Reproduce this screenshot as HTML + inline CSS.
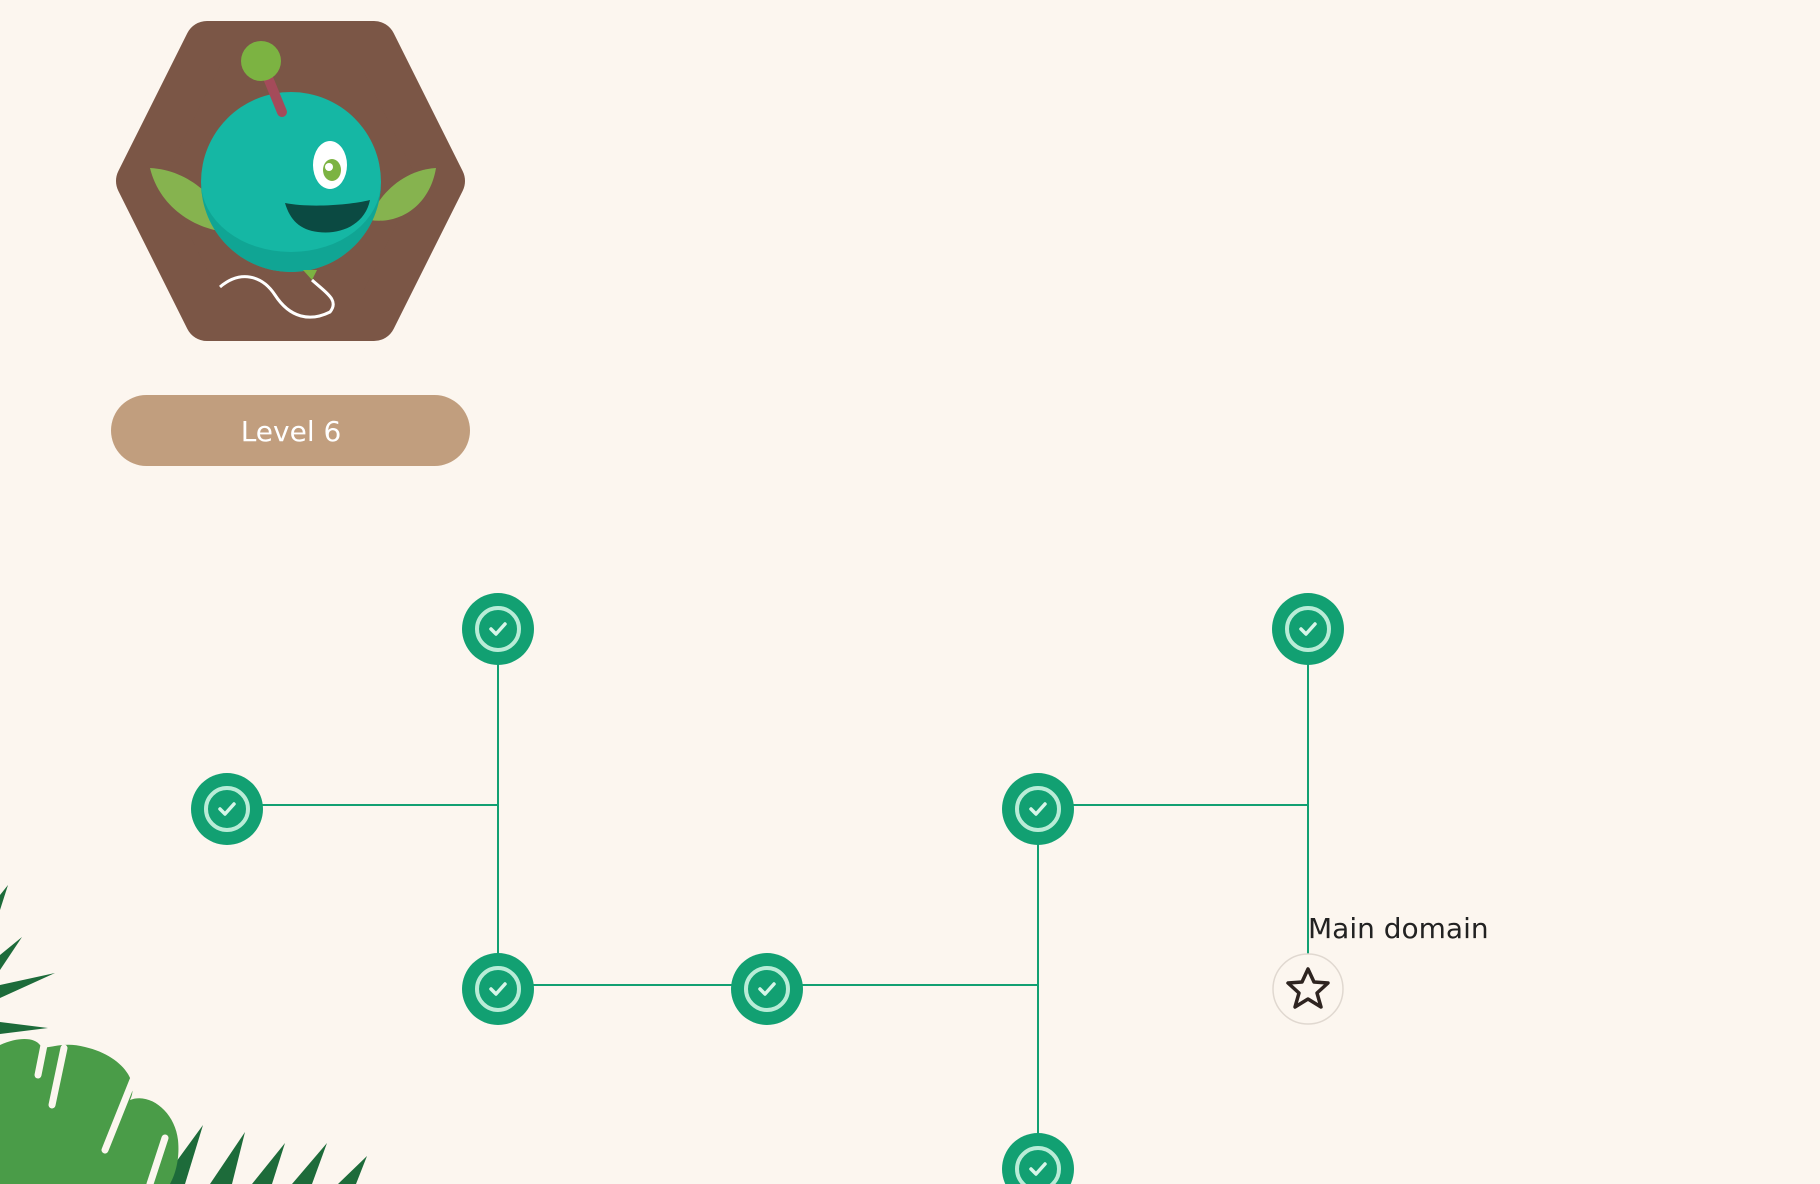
<!DOCTYPE html>
<html><head><meta charset="utf-8"><style>
html,body{margin:0;padding:0;width:1820px;height:1184px;overflow:hidden;background:#fcf6ef;}
svg{display:block}
</style></head><body>
<svg width="1820" height="1184" viewBox="0 0 1820 1184" xmlns="http://www.w3.org/2000/svg">
<defs>
<radialGradient id="bg" cx="50%" cy="0%" r="60%"><stop offset="0" stop-color="#f4ece4"/><stop offset="1" stop-color="#fcf6ef" stop-opacity="0"/></radialGradient>
<g id="n">
<circle r="36" fill="#12a072"/>
<circle r="21" fill="none" stroke="#b9ecd7" stroke-width="4"/>
<path d="M-7 0 L-2 5 L7 -5" fill="none" stroke="#d6f5e8" stroke-width="3.5" stroke-linecap="round" stroke-linejoin="round"/>
</g>
</defs>
<rect width="1820" height="1184" fill="#fcf6ef"/>
<ellipse cx="1250" cy="0" rx="550" ry="90" fill="url(#bg)"/>
<!-- hexagon -->
<polygon points="207,43 374,43 443,181 374,319 207,319 138,181" fill="#7b5646" stroke="#7b5646" stroke-width="44" stroke-linejoin="round"/>
<!-- character -->
<path d="M150 168 C190 170 220 200 232 232 C200 232 160 210 150 168Z" fill="#86b34f"/>
<path d="M436 168 C400 170 375 200 370 220 C400 225 430 205 436 168Z" fill="#86b34f"/>
<circle cx="291" cy="182" r="90" fill="#15b7a4"/>
<path d="M201 182 A90 90 0 0 0 381 182 A90 70 0 0 1 201 182Z" fill="#10a594"/>
<line x1="264" y1="68" x2="282" y2="112" stroke="#a44b5a" stroke-width="10" stroke-linecap="round"/>
<circle cx="261" cy="61" r="20" fill="#7cb342"/>
<ellipse cx="330" cy="165" rx="17" ry="24" fill="#fff"/>
<ellipse cx="332" cy="170" rx="9" ry="11" fill="#7cb342"/>
<circle cx="329" cy="167" r="4" fill="#fff"/>
<path d="M285 203 C310 208 350 205 370 200 C365 225 340 235 318 232 C300 230 290 220 285 203Z" fill="#0b4a42"/>
<path d="M303 270 L317 270 L312 280Z" fill="#7cb342"/>
<path d="M220 287 C240 270 262 275 275 295 C290 318 310 322 330 312 C340 300 325 292 312 280" fill="none" stroke="#fff" stroke-width="3"/>
<!-- level pill -->
<rect x="111" y="395" width="359" height="71" rx="35.5" fill="#c19e7e"/>
<text x="291" y="441" text-anchor="middle" font-family="DejaVu Sans, sans-serif" font-size="28" fill="#fff">Level 6</text>
<!-- connectors -->
<g stroke="#12a072" stroke-width="2" fill="none">
<line x1="498" y1="629" x2="498" y2="989"/>
<line x1="227" y1="805" x2="498" y2="805"/>
<line x1="498" y1="985" x2="1038" y2="985"/>
<line x1="1038" y1="809" x2="1038" y2="1169"/>
<line x1="1038" y1="805" x2="1308" y2="805"/>
<line x1="1308" y1="629" x2="1308" y2="955"/>
</g>
<use href="#n" x="498" y="629"/>
<use href="#n" x="227" y="809"/>
<use href="#n" x="498" y="989"/>
<use href="#n" x="767" y="989"/>
<use href="#n" x="1038" y="809"/>
<use href="#n" x="1038" y="1169"/>
<use href="#n" x="1308" y="629"/>
<circle cx="1308" cy="989" r="35" fill="#fcf6ef" stroke="#e0d8d0" stroke-width="1.5"/>
<path d="M1308 969 L1314 982 L1328 983 L1317 993 L1321 1007 L1308 999 L1295 1007 L1299 993 L1288 983 L1302 982Z" fill="none" stroke="#2e2420" stroke-width="3.5" stroke-linejoin="round"/>
<text x="1308" y="938" font-family="DejaVu Sans, sans-serif" font-size="28" fill="#222">Main domain</text>
<!-- leaves -->
<g fill="#1d6b3a">
<path d="M0 895 L8 885 L0 910Z"/>
<path d="M0 955 L22 937 L0 970Z"/>
<path d="M0 985 L55 973 L0 998Z"/>
<path d="M0 1022 L48 1028 L0 1034Z"/>
<path d="M0 1065 L45 1075 L0 1082Z"/>
<path d="M0 1112 L18 1118 L0 1124Z"/>
<path d="M160 1184 L203 1125 L185 1184Z"/>
<path d="M210 1184 L245 1132 L232 1184Z"/>
<path d="M252 1184 L285 1143 L272 1184Z"/>
<path d="M292 1184 L327 1143 L312 1184Z"/>
<path d="M338 1184 L367 1156 L356 1184Z"/>
</g>
<path d="M0 1045 C20 1036 35 1038 40 1045 C45 1052 60 1040 85 1047 C120 1055 140 1080 130 1100 C150 1092 175 1112 178 1140 C180 1160 175 1175 170 1184 L0 1184Z" fill="#4a9c48"/>
<g stroke="#fcf6ef" stroke-width="7" stroke-linecap="round" fill="none">
<path d="M45 1040 L38 1075"/>
<path d="M64 1048 L52 1105"/>
<path d="M133 1080 L105 1150"/>
<path d="M165 1138 L150 1184"/>
</g>
</svg>
</body></html>
